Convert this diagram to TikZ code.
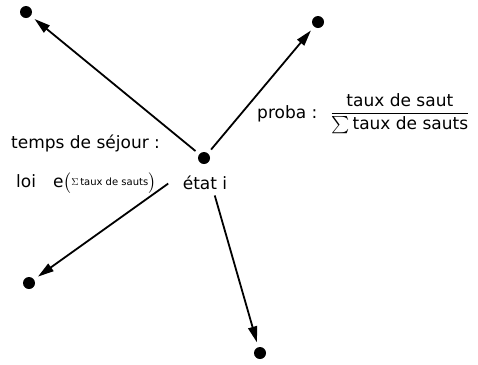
\documentclass[tikz,border=0pt]{standalone}
\usepackage{amsmath}
\usepackage{fontspec}
\setmainfont{DejaVu Sans}
\usetikzlibrary{arrows.meta}

\begin{document}
\begin{tikzpicture}[
  x=1bp, y=-1bp,
  dot/.style={circle, fill=black, inner sep=0pt, minimum size=12bp, outer sep=5bp},
  lbl/.style={inner sep=0pt, font=\fontsize{17bp}{20bp}\selectfont},
  arrow/.style={-{Triangle[length=16bp, width=9bp]}, line width=1.8bp}
]
\useasboundingbox (0,0) rectangle (478,364);

% etats
\node[dot] (etat) at (204,158) {};
\node[dot] (hg) at (26,12) {};
\node[dot] (hd) at (318,22) {};
\node[dot] (bg) at (29,283) {};
\node[dot] (bas) at (260,353) {};

% textes
\node[lbl, anchor=base] (etatlbl) at (205,189) {état i};
\node[lbl, anchor=base west] (sejour) at (11,148) {temps de séjour :};
\node[lbl, anchor=base west] (loi) at (16,187) {loi\quad e$\bigl($\raisebox{1.5bp}{\fontsize{10bp}{10bp}\selectfont$\Sigma$\,taux de sauts}$\bigr)$};
\node[lbl, anchor=base west] (proba) at (257,118) {proba :\hspace{13bp}$\dfrac{\text{taux de saut}}{\textstyle\sum\text{taux de sauts}}$};

% sauts
\draw[arrow] (etat) -- (hg);
\draw[arrow] (etat) -- (hd);
\draw[arrow, shorten <=33bp] (etat) -- (bg);
\draw[arrow, shorten <=28bp] (etat) -- (bas);

\end{tikzpicture}
\end{document}
